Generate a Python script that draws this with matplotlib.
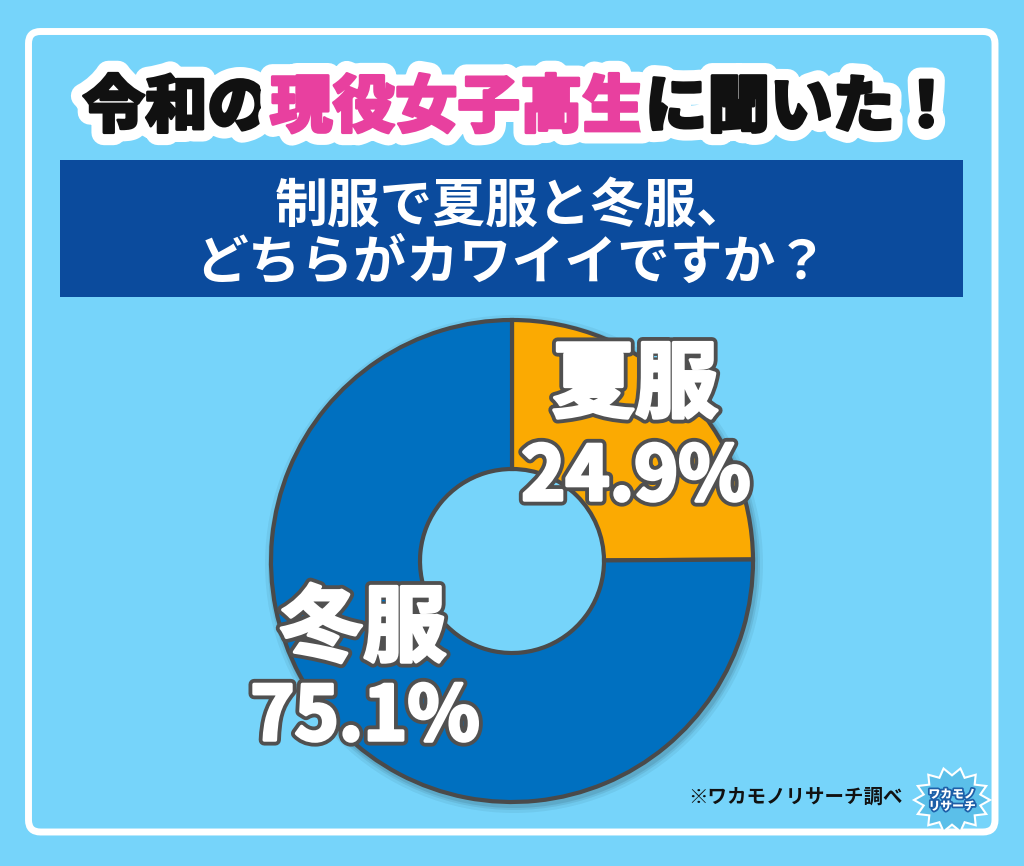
import matplotlib
matplotlib.use('Agg')
import matplotlib.pyplot as plt
import matplotlib.patheffects as pe
from matplotlib.patches import FancyBboxPatch, Rectangle, Polygon, Circle
import numpy as np

plt.rcParams['font.family'] = ['Noto Sans CJK JP', 'DejaVu Sans']

# ---- data ----
categories = ['夏服', '冬服']
values = [24.9, 75.1]
colors = ['#fbaa02', '#0070c0']
title_parts = ['令和の', '現役女子高生', 'に聞いた！']
title_colors = ['#111111', '#e8409f', '#111111']
subtitle_lines = ['制服で夏服と冬服、', 'どちらがカワイイですか？']
source = '※ワカモノリサーチ調べ'
logo_lines = 'ワカモノ\nリサーチ'

W, H = 1024, 866
BG = '#76d4fa'
fig = plt.figure(figsize=(W / 100, H / 100), dpi=100)
fig.patch.set_facecolor(BG)

bg = fig.add_axes([0, 0, 1, 1])
bg.set_xlim(0, W)
bg.set_ylim(H, 0)
bg.axis('off')

# white frame
bg.add_patch(FancyBboxPatch((28.5, 31.5), 995 - 28.5, 832 - 31.5,
                            boxstyle='round,pad=0,rounding_size=12',
                            fill=False, ec='white', lw=5))

# title
renderer = fig.canvas.get_renderer()
tts = []
for part, col in zip(title_parts, title_colors):
    t = bg.text(0, 108, part, fontsize=45, fontweight='heavy', color=col,
                ha='left', va='center',
                path_effects=[pe.Stroke(linewidth=18, foreground='white'),
                              pe.Stroke(linewidth=2, foreground=col),
                              pe.Normal()])
    tts.append(t)
widths = [t.get_window_extent(renderer).width for t in tts]
x = W / 2 - sum(widths) / 2 + 8
for t, w in zip(tts, widths):
    t.set_x(x)
    x += w

# subtitle box
bg.add_patch(Rectangle((60, 160), 903, 137, fc='#0b4b9d', ec='none'))
for y, line in zip([206, 263], subtitle_lines):
    bg.text(W / 2, y, line, fontsize=38, fontweight='bold', color='white',
            ha='center', va='center')

# footer
bg.text(903, 797, source, fontsize=14, fontweight='bold', color='#111111',
        ha='right', va='center')

# logo (decoration)
ang = np.linspace(0, 2 * np.pi, 29)[:-1]
rad = np.where(np.arange(28) % 2 == 0, 38, 29)
pts = np.c_[952 + rad * np.cos(ang), 800 + rad * np.sin(ang) * 0.85]
bg.add_patch(Polygon(pts, closed=True, fc='#5bbfe9', ec='white', lw=1.5))
bg.text(952, 800, logo_lines, fontsize=8.5, fontweight='heavy', color='white',
        ha='center', va='center', linespacing=1.0,
        path_effects=[pe.withStroke(linewidth=2.5, foreground='#1d5fa8')])

# donut
cx, cy, R, r = 512, 561, 241, 92
pax = fig.add_axes([(cx - 260) / W, (H - cy - 260) / H, 520 / W, 520 / H])
# soft shadow
for k, a in zip([8, 5, 3], [0.05, 0.07, 0.09]):
    pax.add_patch(Circle((2, -3), R + k, fc='black', alpha=a, ec='none',
                         zorder=0.1))
pax.add_patch(Circle((0, 0), r - 1.5, fc=BG, ec='none', zorder=0.5))
pax.pie(values, colors=colors, startangle=90, counterclock=False, radius=R,
        wedgeprops=dict(width=R - r, edgecolor='#4a4a4a', linewidth=3,
                        zorder=2))
pax.set_xlim(-260, 260)
pax.set_ylim(-260, 260)
pax.set_aspect('equal')
pax.axis('off')

# labels overlay
top = fig.add_axes([0, 0, 1, 1])
top.set_xlim(0, W)
top.set_ylim(H, 0)
top.axis('off')
top.patch.set_alpha(0)
label_pos = [((635, 386), (636, 478)), ((363, 630), (365, 718))]
lab_fx = [pe.Stroke(linewidth=8, foreground='#505050'),
          pe.Stroke(linewidth=2.5, foreground='white'), pe.Normal()]
for cat, v, (p1, p2) in zip(categories, values, label_pos):
    top.text(p1[0], p1[1], cat, fontsize=60, fontweight='bold', color='white',
             ha='center', va='center', path_effects=lab_fx)
    top.text(p2[0], p2[1], f'{v:.1f}%', fontsize=54, fontweight='bold',
             color='white', ha='center', va='center', path_effects=lab_fx)

fig.savefig('out.png', dpi=100, facecolor=fig.get_facecolor())
